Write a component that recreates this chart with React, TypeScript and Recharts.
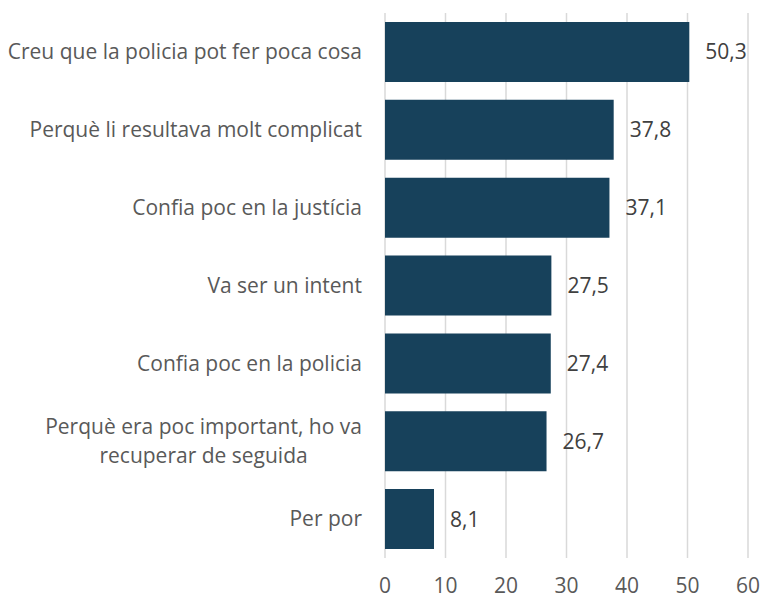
import React from 'react';
import { BarChart, Bar, XAxis, YAxis, CartesianGrid, LabelList } from 'recharts';

const categories = [
  'Creu que la policia pot fer poca cosa',
  'Perquè li resultava molt complicat',
  'Confia poc en la justícia',
  'Va ser un intent',
  'Confia poc en la policia',
  'Perquè era poc important, ho va\nrecuperar de seguida',
  'Per por',
];
const values = [50.3, 37.8, 37.1, 27.5, 27.4, 26.7, 8.1];
const xTicks = [0, 10, 20, 30, 40, 50, 60];

const data = categories.map((c, i) => ({ name: c, value: values[i] }));

const FONT = '"Open Sans", sans-serif';
const FS = 21;

let ctx: CanvasRenderingContext2D | null = null;
function measure(t: string): number {
  if (!ctx) {
    const c = document.createElement('canvas');
    ctx = c.getContext('2d');
  }
  if (!ctx) return t.length * FS * 0.5;
  ctx.font = `${FS}px "Open Sans"`;
  return ctx.measureText(t).width;
}

const YTick = (props: any) => {
  const { x, y, payload } = props;
  const lines: string[] = String(payload.value).split('\n');
  if (lines.length === 1) {
    return (
      <text x={x} y={y} dy="0.35em" textAnchor="end" fill="#595959" fontSize={FS} fontFamily={FONT}>
        {lines[0]}
      </text>
    );
  }
  const w = Math.max(...lines.map(measure));
  const cx = x - w / 2;
  const lh = FS * 1.4;
  const start = -((lines.length - 1) * lh) / 2;
  return (
    <text textAnchor="middle" fill="#595959" fontSize={FS} fontFamily={FONT}>
      {lines.map((l, i) => (
        <tspan key={i} x={cx} y={y + start + i * lh} dy="0.35em">
          {l}
        </tspan>
      ))}
    </text>
  );
};

export default function App() {
  return (
    <div style={{ position: 'absolute', left: 0, top: 0 }}>
      <BarChart
        width={762}
        height={599}
        data={data}
        layout="vertical"
        margin={{ top: 13, right: 14, bottom: 11, left: 0 }}
        barCategoryGap="11.5%"
      >
        <CartesianGrid horizontal={false} vertical stroke="#d9d9d9" strokeWidth={1.5} />
        <XAxis
          type="number"
          domain={[0, 60]}
          ticks={xTicks}
          axisLine={false}
          tickLine={false}
          tickSize={0}
          tickMargin={20}
          height={30}
          tick={{ fill: '#595959', fontSize: FS, fontFamily: FONT }}
          interval={0}
        />
        <YAxis
          type="category"
          dataKey="name"
          width={385}
          axisLine={false}
          tickLine={false}
          tickSize={0}
          tickMargin={23}
          tick={<YTick />}
          interval={0}
        />
        <Bar dataKey="value" fill="#17415b" isAnimationActive={false}>
          <LabelList
            dataKey="value"
            position="right"
            offset={16}
            fill="#404040"
            fontSize={FS}
            fontFamily={FONT}
            formatter={(v: any) => String(v).replace('.', ',')}
          />
        </Bar>
      </BarChart>
    </div>
  );
}
